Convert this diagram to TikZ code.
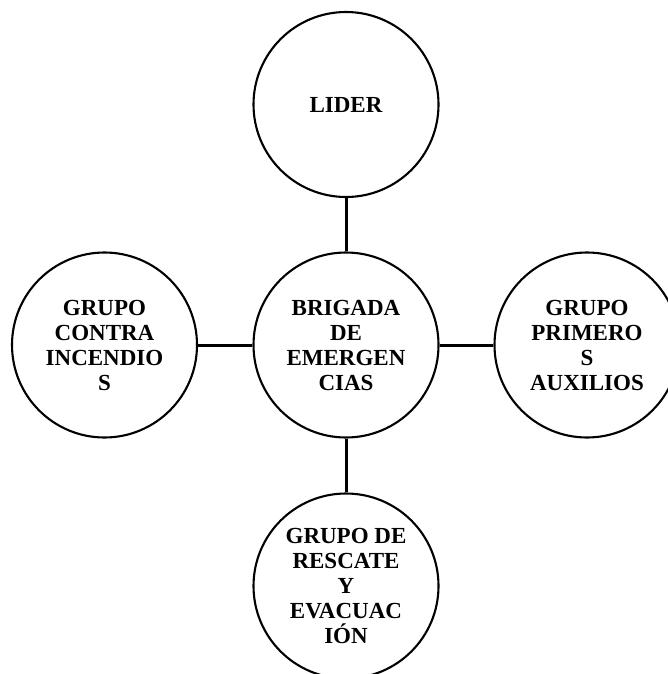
\documentclass[tikz,border=0pt]{standalone}
\usepackage{fontspec}
\setmainfont{Liberation Serif}
\begin{document}
\begin{tikzpicture}[x=1pt,y=-1pt,
  bubble/.style={draw=black, line width=2.1pt, circle, minimum size=185pt, inner sep=0pt,
    align=center, font=\bfseries\fontsize{23}{25}\selectfont},
  link/.style={draw=black, line width=3pt}]
\useasboundingbox (0,0) rectangle (668,674);
\node[bubble] (cen) at (346,345) {BRIGADA\\DE\\EMERGEN\\CIAS};
\node[bubble] (lider) at (346,104.5) {LIDER};
\node[bubble] (left) at (104.5,345) {GRUPO\\CONTRA\\INCENDIO\\S};
\node[bubble] (right) at (587,345) {GRUPO\\PRIMERO\\S\\AUXILIOS};
\node[bubble] (bottom) at (346,586) {GRUPO DE\\RESCATE\\Y\\EVACUAC\\IÓN};
\draw[link] (lider) -- (cen);
\draw[link] (left) -- (cen);
\draw[link] (cen) -- (right);
\draw[link] (cen) -- (bottom);
\end{tikzpicture}
\end{document}
